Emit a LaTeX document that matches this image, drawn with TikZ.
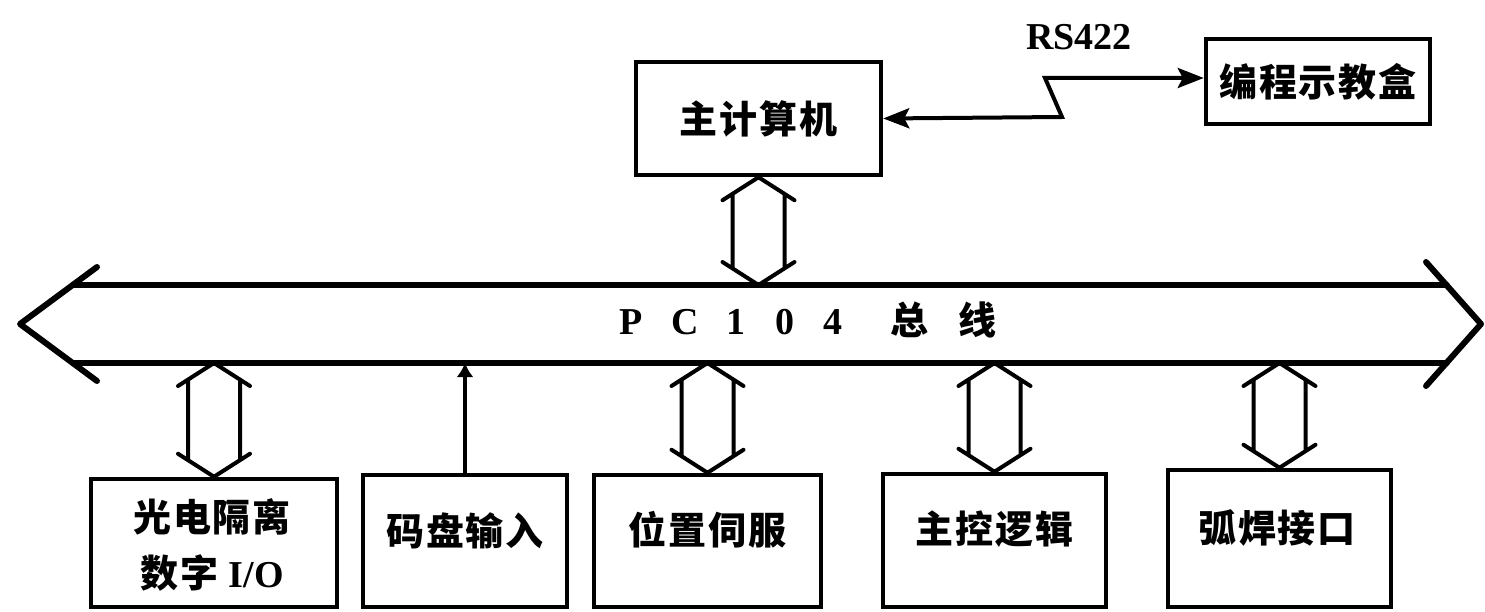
\documentclass[tikz,border=0pt]{standalone}
\usepackage{fontspec}
\setmainfont{Liberation Serif}
\newfontfamily\cjk{Noto Sans CJK SC}[LetterSpace=5]
\usetikzlibrary{arrows.meta,calc}
\tikzset{
  box/.style={draw, line width=4.5pt, inner sep=0pt},
  conn/.style={line width=4pt},
  busline/.style={line width=6pt, line cap=round, line join=round},
  dblarr/.style={line width=4pt, line cap=round, line join=round},
  cjktxt/.style={font={\fontsize{38}{56}\cjk\bfseries}},
  lattxt/.style={font={\fontsize{38}{46}\selectfont\bfseries}},
}
\newcommand\dblarrow[2]{%
  \draw[dblarr] ($(#1)+(-36,23)$) -- (#1) -- ($(#1)+(36,23)$)
    ($(#2)+(-36,-23)$) -- (#2) -- ($(#2)+(36,-23)$)
    ($(#1)+(-26,16.6)$) -- ($(#2)+(-26,-16.6)$)
    ($(#1)+(26,16.6)$) -- ($(#2)+(26,-16.6)$);}
\begin{document}
\begin{tikzpicture}[x=1pt, y=-1pt]
\useasboundingbox (0,0) rectangle (1485,612);

% bus
\coordinate (bustop) at (0,285);
\coordinate (busbot) at (0,363);
\coordinate (ltip) at (20,324);
\coordinate (lw1) at (97,267);
\coordinate (lw2) at (97,381);
\coordinate (rtip) at (1481,324);
\coordinate (rw1) at (1426,262);
\coordinate (rw2) at (1426,386);
\coordinate (bl1) at (72.7,285);
\coordinate (bl2) at (72.7,363);
\coordinate (br1) at (1446.8,285);
\coordinate (br2) at (1446.8,363);
\draw[busline] (lw1) -- (ltip) -- (lw2);
\draw[busline] (rw1) -- (rtip) -- (rw2);
\draw[busline] (bl1) -- (br1);
\draw[busline] (bl2) -- (br2);
\node[lattxt] (buslabel) at (808,320) {P\hspace{29pt}C\hspace{28pt}1\hspace{30pt}0\hspace{29pt}4\hspace{48pt}{\cjk 总\hspace{30pt}线}};

% top boxes
\node[box, cjktxt, minimum width=245pt, minimum height=113pt] (main) at (758.5,118.5) {主计算机};
\node[box, cjktxt, minimum width=224pt, minimum height=85pt] (teach) at (1318,81.5) {编程示教盒};
\node[lattxt] (rs) at (1079,37) {RS422};
\coordinate (z1) at (1062,117);
\coordinate (z2) at (1045,78);
\draw[conn, {Stealth[length=26pt,width=20pt,inset=5pt]}-{Stealth[length=26pt,width=20pt,inset=5pt]}]
  (main.east) -- (z1) -- (z2) -- (z2 -| teach.west);

% bottom boxes
\node[box, minimum width=246pt, minimum height=128pt] (b1) at (214,543) {};
\node[box, minimum width=204pt, minimum height=132pt] (b2) at (465,541) {};
\node[box, minimum width=227pt, minimum height=132pt] (b3) at (707.5,541) {};
\node[box, minimum width=223pt, minimum height=133pt] (b4) at (994.5,540.5) {};
\node[box, minimum width=223pt, minimum height=137pt] (b5) at (1279.5,538.5) {};

\node[cjktxt, align=center] (t1) at (212,545) {光电隔离\\数字 {\rmfamily I/O}};
\node[cjktxt] (t2) at (465,531) {码盘输入};
\node[cjktxt] (t3) at (707.5,530) {位置伺服};
\node[cjktxt] (t4) at (994.5,529) {主控逻辑};
\node[cjktxt] (t5) at (1277,528) {弧焊接口};

% connectors to bus
\coordinate (m1) at (main.south);
\coordinate (m2) at (main.south |- bustop);
\dblarrow{m1}{m2}
\coordinate (a1) at (b1.north |- busbot);
\dblarrow{a1}{b1.north}
\coordinate (a3) at (b3.north |- busbot);
\dblarrow{a3}{b3.north}
\coordinate (a4) at (b4.north |- busbot);
\dblarrow{a4}{b4.north}
\coordinate (a5) at (b5.north |- busbot);
\dblarrow{a5}{b5.north}
\draw[line width=3.5pt, -{Latex[length=14pt,width=17pt]}] (b2.north) -- (b2.north |- busbot);
\end{tikzpicture}
\end{document}
